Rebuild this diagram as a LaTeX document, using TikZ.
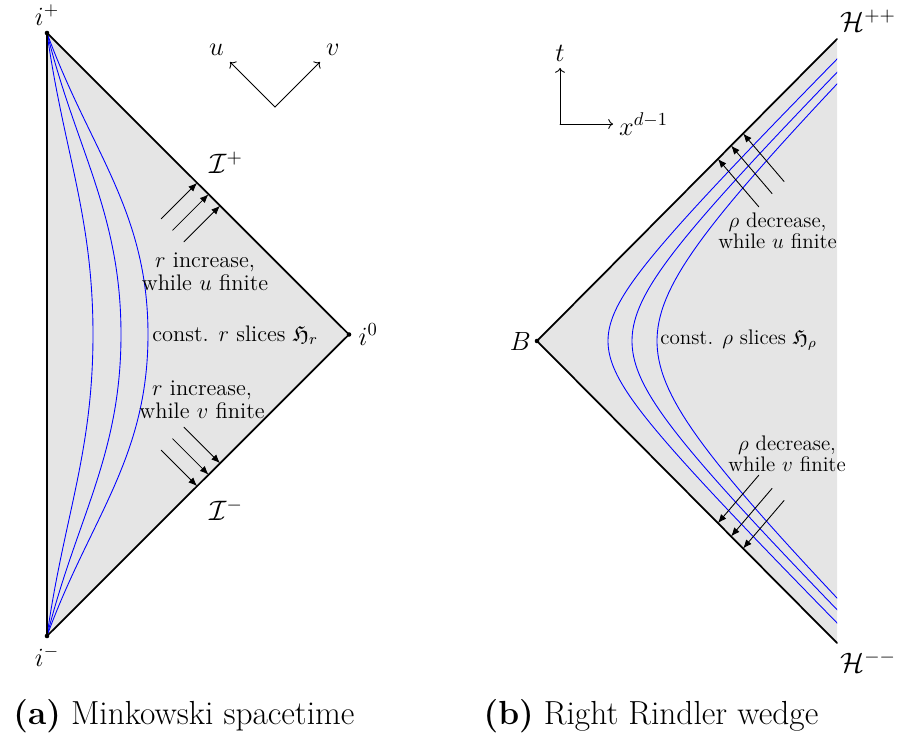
\RequirePackage{fix-cm}
\documentclass[tikz,border=0pt]{standalone}
\usepackage{amsmath,amssymb}
\usetikzlibrary{calc,arrows.meta}

\begin{document}
\begin{tikzpicture}[
  line cap=round,
  line join=round,
  edge/.style={line width=1pt},
  slice/.style={blue, line width=0.5pt},
  flow/.style={-{Latex[length=5pt,width=4pt]}, line width=0.5pt},
  axis/.style={->, line width=0.5pt},
  lbl/.style={font=\fontsize{12.8}{13}\selectfont, align=center},
  lblr/.style={font=\fontsize{12}{10.5}\selectfont, align=center},
  pt/.style={font=\fontsize{15}{17}\selectfont},
  scri/.style={font=\fontsize{16}{18}\selectfont},
  subcap/.style={font=\fontsize{19}{22}\selectfont}
]
  \useasboundingbox (0,0) rectangle (18,14.8);

  % Minkowski
  \coordinate (ip) at (0.94,14.14);
  \coordinate (im) at (0.94,2.08);
  \coordinate (izero) at (6.98,8.11);

  \fill[gray!20] (ip)--(izero)--(im)--cycle;

  % const r slices
  \foreach \d/\a in {0.92/82, 1.48/76, 2.02/70}
    \draw[slice] (ip) to[out=-\a,in=90] ($(ip)!0.5!(im)+(\d,0)$) to[out=-90,in=\a] (im);

  \draw[edge] (ip)--(izero)--(im)--cycle;

  % r increase
  \foreach \s in {0.497,0.535,0.573} {
    \coordinate (P) at ($(ip)!\s!(izero)$);
    \draw[flow] ($(P)+(-0.72,-0.72)$) -- (P);
    \coordinate (Q) at ($(im)!\s!(izero)$);
    \draw[flow] ($(Q)+(-0.72,0.72)$) -- (Q);
  }

  \fill (ip) circle (1.3pt);
  \fill (im) circle (1.3pt);
  \fill (izero) circle (1.3pt);

  \node[pt, above=1pt] (lip) at (ip) {$i^+$};
  \node[pt, below=2pt] (lim) at (im) {$i^-$};
  \node[pt, right=2pt] (lizero) at (izero) {$i^0$};
  \node[scri] (scrip) at (4.52,11.54) {$\mathcal{I}^+$};
  \node[scri] (scrim) at (4.52,4.6) {$\mathcal{I}^-$};

  \node[lbl] (incu) at (4.1,9.37) {$r$ increase,\\while $u$ finite};
  \node[lbl] (incv) at (4.04,6.81) {$r$ increase,\\while $v$ finite};
  \node[lbl, anchor=west, inner sep=0pt] (rslice) at (3.04,8.1) {const. $r$ slices $\mathfrak{H}_r$};

  % null directions
  \coordinate (uv) at (5.5,12.66);
  \coordinate (utip) at (4.6,13.56);
  \coordinate (vtip) at (6.4,13.56);
  \draw[axis] (uv) -- (utip);
  \draw[axis] (uv) -- (vtip);
  \node[pt, above left] (lu) at (utip) {$u$};
  \node[pt, above right] (lv) at (vtip) {$v$};

  % Rindler
  \coordinate (B) at (10.74,7.98);
  \coordinate (hpp) at (16.74,14.02);
  \coordinate (hmm) at (16.74,1.94);

  \fill[gray!20] (B)--(hpp)--(hmm)--cycle;

  % const rho slices
  \begin{scope}
    \clip (B)--(hpp)--(hmm)--cycle;
    \foreach \o/\r in {0.24/1.18, 0.43/1.47, 0.53/1.87}
      \draw[slice, shift={(B)}] plot[domain=-2.6:2.6, samples=90, variable=\t]
        ({\o+\r*cosh(\t)},{\r*sinh(\t)});
  \end{scope}

  \draw[edge] (hmm)--(B)--(hpp);
  \fill (B) circle (1.3pt);

  % rho decrease
  \foreach \s in {0.603,0.647,0.687} {
    \coordinate (P) at ($(B)!\s!(hpp)$);
    \draw[flow] ($(P)+(0.82,-0.96)$) -- (P);
    \coordinate (Q) at ($(B)!\s!(hmm)$);
    \draw[flow] ($(Q)+(0.82,0.96)$) -- (Q);
  }

  \node[pt, left] (lB) at (B) {$B$};
  \node[scri] (lhpp) at (17.36,14.38) {$\mathcal{H}^{++}$};
  \node[scri] (lhmm) at (17.36,1.56) {$\mathcal{H}^{--}$};

  \node[lblr] (decu) at (15.55,10.18) {$\rho$ decrease,\\while $u$ finite};
  \node[lblr] (decv) at (15.74,5.73) {$\rho$ decrease,\\while $v$ finite};
  \node[lblr, anchor=west, inner sep=0pt] (rhoslice) at (13.2,8.0) {const. $\rho$ slices $\mathfrak{H}_\rho$};

  % t, x axes
  \coordinate (o) at (11.2,12.32);
  \coordinate (ttip) at (11.2,13.44);
  \coordinate (xtip) at (12.26,12.32);
  \draw[axis] (o) -- (ttip);
  \draw[axis] (o) -- (xtip);
  \node[pt, above] (lt) at (ttip) {$t$};
  \node[pt, right] (lx) at (xtip) {$x^{d-1}$};

  % captions
  \node[subcap] (capa) at (3.68,0.48) {\textbf{(a)} Minkowski spacetime};
  \node[subcap] (capb) at (13.02,0.48) {\textbf{(b)} Right Rindler wedge};
\end{tikzpicture}
\end{document}
